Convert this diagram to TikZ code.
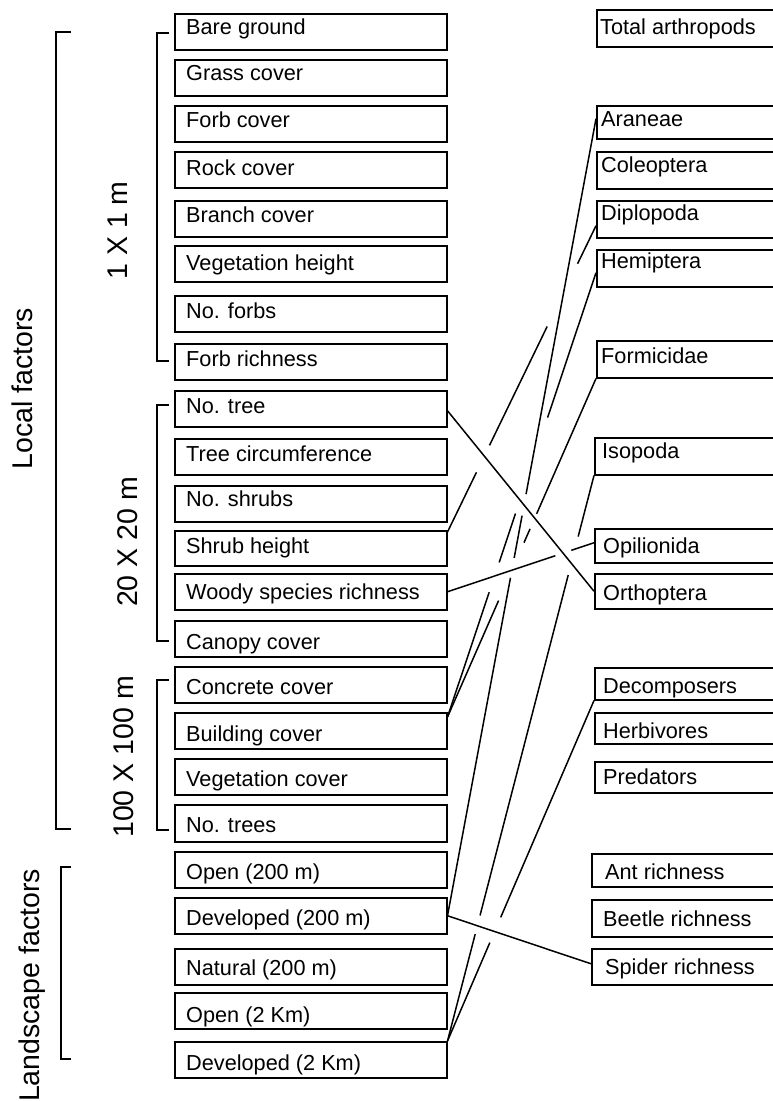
\documentclass[tikz,border=0pt]{standalone}
\usepackage{fontspec}
\setmainfont{Liberation Sans}
\usetikzlibrary{calc}

% draw the pieces [a,b] of the straight line from #1 to #2 (fractions along it)
\newcommand\segline[3]{%
  \foreach \sa/\sb in {#3}{\draw[conn] ($(#1)!\sa!(#2)$) -- ($(#1)!\sb!(#2)$);}}

\begin{document}
\begin{tikzpicture}[x=1pt,y=-1pt,
  box/.style={draw, line width=1.5pt, inner sep=0pt, anchor=north west},
  lbl/.style={anchor=base west, inner sep=0pt, font=\fontsize{21.7}{26}\selectfont},
  conn/.style={line width=1.5pt},
  brk/.style={line width=1.3pt},
  side/.style={anchor=base, inner sep=0pt, rotate=90, font=\fontsize{28.5}{34}\selectfont}]
\useasboundingbox (0,0) rectangle (772,1101);

% explanatory variables (left column): name/top/bottom/baseline offset/text
\foreach \nm/\tp/\bt/\of/\tx in {
  bare/13/49/21/{Bare ground},
  grass/59/95/21.7/{Grass cover},
  forbc/105/141/22.7/{Forb cover},
  rock/151/187/24/{Rock cover},
  branch/200/236/22/{Branch cover},
  vegh/245/281/25/{Vegetation height},
  nforbs/295/331/23/{No. forbs},
  forbr/343/379/23/{Forb richness},
  notree/390/426/23/{No. tree},
  treec/438/474/23/{Tree circumference},
  nshrubs/485/521/21/{No. shrubs},
  shrub/530/565/23/{Shrub height},
  woody/573/609/26.7/{Woody species richness},
  canopy/620/656/29/{Canopy cover},
  concrete/666/702/28/{Concrete cover},
  building/712/748/29/{Building cover},
  vegc/758/794/28/{Vegetation cover},
  ntrees/804/841/28/{No. trees},
  openA/851/887/28/{Open (200 m)},
  devA/897/933/28/{Developed (200 m)},
  natA/948/984/27/{Natural (200 m)},
  openB/992/1028/30/{Open (2 Km)},
  devB/1041/1077/29/{Developed (2 Km)}}{
  \node[box, minimum width=272pt, minimum height=\bt pt-\tp pt] (\nm) at (174,\tp) {};
  \node[lbl] (\nm-t) at (186,\tp+\of) {\tx};
}

% response variables (right column): name/left/top/bottom/baseline/text x/text
\foreach \nm/\lx/\tp/\bt/\bl/\xx/\tx in {
  total/596/9/46/34/600/{Total arthropods},
  araneae/596/105/138/126/601/{Araneae},
  coleo/596/151/188/172/601/{Coleoptera},
  diplo/596/200/237/220/601/{Diplopoda},
  hemi/596/249/286/268/601/{Hemiptera},
  formi/596/340/377/363/601/{Formicidae},
  iso/594/437/474/458/602/{Isopoda},
  opil/594/528/562/553/603/{Opilionida},
  ortho/594/573/608/600/603/{Orthoptera},
  decomp/594/667/699/693/603/{Decomposers},
  herb/594/712/743/738/603/{Herbivores},
  pred/594/761/792/784/603/{Predators},
  ant/591/853/886/879/605/{Ant richness},
  beetle/591/899/936/926/603/{Beetle richness},
  spider/591/948/984/974/605/{Spider richness}}{
  \node[box, minimum width=785pt-\lx pt, minimum height=\bt pt-\tp pt] (\nm) at (\lx,\tp) {};
  \node[lbl] (\nm-t) at (\xx,\bl) {\tx};
}

% scale brackets
\draw[brk] (71,32) -- (56,32) -- (56,829) -- (71,829);
\draw[brk] (169,33) -- (157,33) -- (157,361) -- (169,361);
\draw[brk] (169,405) -- (157,405) -- (157,641) -- (169,641);
\draw[brk] (169,680) -- (157,680) -- (157,830) -- (169,830);
\draw[brk] (71,867) -- (61,867) -- (61,1059) -- (71,1059);

\node[side] (local)  at (32,388.5) {Local factors};
\node[side] (s1)     at (127,230.5) {1 X 1 m};
\node[side] (s20)    at (137,542)   {20 X 20 m};
\node[side] (s100)   at (133,757)   {100 X 100 m};
\node[side] (land)   at (39,985.5)  {Landscape factors};

% connector end points on the boxes
\coordinate (pNoTree)  at ([yshift=-2pt]notree.east);
\coordinate (pOrtho)   at (ortho.west);
\coordinate (pShrub)   at ([yshift=-2pt]shrub.north east);
\coordinate (pDiplo)   at ([yshift=-6.5pt]diplo.west);
\coordinate (pWoody)   at (woody.east);
\coordinate (pOpil)    at ([yshift=3pt]opil.west);
\coordinate (pBuild)   at ([yshift=-5pt]building.north east);
\coordinate (pHemi)    at ([yshift=-4.5pt]hemi.west);
\coordinate (pFormi)   at (formi.south west);
\coordinate (pDevA)    at (devA.east);
\coordinate (pAraneae) at ([yshift=3.5pt]araneae.west);
\coordinate (pSpider)  at ([yshift=3pt]spider.west);
\coordinate (pDevB)    at (devB.north east);
\coordinate (pIso)     at (iso.south west);
\coordinate (pDecomp)  at (decomp.south west);

% significant relations; lines passing under others are broken
\draw[conn] (pNoTree) -- (pOrtho);
\draw[conn] (pDevA) -- (pSpider);
\segline{pWoody}{pOpil}{0/0.736, 0.845/1}
\segline{pDevA}{pAraneae}{0/0.424, 0.449/0.502, 0.529/1}
\segline{pShrub}{pDiplo}{0/0.195, 0.283/0.671, 0.876/1}
\segline{pBuild}{pHemi}{0/0.281, 0.348/0.458, 0.674/1}
\segline{pBuild}{pFormi}{0/0.344, 0.515/0.556, 0.6/1}
\segline{pDevB}{pIso}{0/0.189, 0.222/0.824, 0.892/1}
\segline{pDevB}{pDecomp}{0/0.289, 0.363/1}
\end{tikzpicture}
\end{document}
